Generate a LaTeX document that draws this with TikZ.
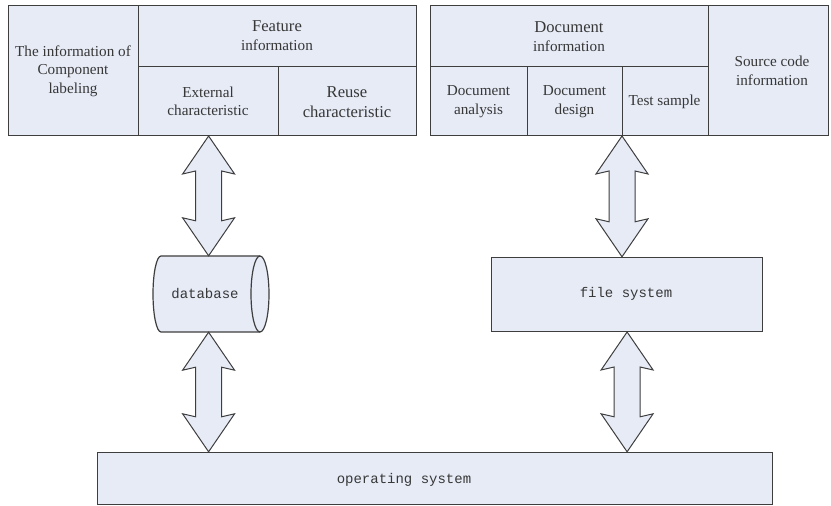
\documentclass[tikz,border=0pt]{standalone}
\usepackage{fontspec}
\setmainfont{Liberation Serif}
\newfontfamily\codefont{Liberation Mono}
\usetikzlibrary{calc}

\definecolor{boxfill}{RGB}{230,235,246}
\definecolor{boxline}{RGB}{62,62,62}
\definecolor{inktext}{RGB}{55,55,55}

\tikzset{
  cell/.style={draw=boxline, fill=boxfill, line width=1.2pt, inner sep=0pt,
    anchor=south west, align=center, text=inktext,
    font=\fontsize{15.2}{18.5}\selectfont},
  plainbox/.style={draw=boxline, fill=boxfill, line width=1.2pt, inner sep=0pt,
    anchor=south west},
  label/.style={inner sep=0pt, align=center, text=inktext,
    font=\fontsize{15.2}{18.5}\selectfont},
  codelabel/.style={inner sep=0pt, text=inktext,
    font=\codefont\fontsize{14}{16}\selectfont},
  blockarrow/.style={draw=boxline, fill=boxfill, line width=1pt, line join=miter},
}

% vertical double-headed block arrow between two points (top, bottom)
\newcommand\bidiarrow[2]{%
  \draw[blockarrow] let \p1=(#1), \p2=(#2) in
    (\x1,\y1) -- (\x1-26pt,\y1-38pt) -- (\x1-13pt,\y1-35pt)
    -- (\x1-13pt,\y2+35pt) -- (\x1-26pt,\y2+38pt) -- (\x1,\y2)
    -- (\x1+26pt,\y2+38pt) -- (\x1+13pt,\y2+35pt)
    -- (\x1+13pt,\y1-35pt) -- (\x1+26pt,\y1-38pt) -- cycle;}

\begin{document}
\begin{tikzpicture}[x=1pt,y=1pt]
\useasboundingbox (0,0) rectangle (831,506);

% component information block
\node[cell, minimum width=130pt, minimum height=130pt] (comp) at (8,370) {};
\node[label] (comptext) at (73,435) {The information of\\Component\\labeling};
\node[cell, minimum width=278pt, minimum height=61pt] (feat) at (138,439) {};
\node[label] (feattext) at (277,470.5) {{\fontsize{16.6}{18.5}\selectfont Feature}\\information};
\node[cell, minimum width=140pt, minimum height=69pt] (ext) at (138,370) {};
\node[label] (exttext) at (208,404.5) {External\\characteristic};
\node[cell, minimum width=138pt, minimum height=69pt] (reuse) at (278,370) {};
\node[label, font=\fontsize{16.6}{19.5}\selectfont] (reusetext) at (347,404) {Reuse\\characteristic};

% document / source code block
\node[cell, minimum width=278pt, minimum height=61pt] (docinfo) at (430,439) {};
\node[label] (docinfotext) at (569,469.5) {{\fontsize{16.6}{18.5}\selectfont Document}\\information};
\node[cell, minimum width=97pt, minimum height=69pt] (ana) at (430,370) {};
\node[label] (anatext) at (478.5,404.5) {Document\\analysis};
\node[cell, minimum width=95pt, minimum height=69pt] (des) at (527,370) {};
\node[label] (destext) at (574.5,404.5) {Document\\design};
\node[cell, minimum width=86pt, minimum height=69pt] (test) at (622,370) {};
\node[label] (testtext) at (664.5,404.5) {Test sample};
\node[cell, minimum width=120pt, minimum height=130pt] (src) at (708,370) {};
\node[label] (srctext) at (772,435) {Source code\\information};

% database cylinder
\node[inner sep=0pt, minimum width=116pt, minimum height=76pt] (db) at (211,212) {};
\filldraw[draw=boxline, fill=boxfill, line width=1.2pt]
  (161,250) -- (260,250) arc[start angle=90, end angle=-90, x radius=9pt, y radius=38pt]
  -- (161,174) arc[start angle=270, end angle=90, x radius=8pt, y radius=38pt] -- cycle;
\draw[draw=boxline, line width=1.2pt]
  (260,250) arc[start angle=90, end angle=270, x radius=9pt, y radius=38pt];
\node[codelabel] (dbtext) at (205,212) {database};

% file system and operating system
\node[plainbox, minimum width=271pt, minimum height=74pt] (fs) at (491,174) {};
\node[codelabel] (fstext) at (626,212) {file system};
\node[plainbox, minimum width=675pt, minimum height=52pt] (os) at (97,1) {};
\node[codelabel] (ostext) at (404,26) {operating system};

% connectors
\bidiarrow{ext.south}{ext.south |- db.north}
\bidiarrow{test.south west}{test.south west |- fs.north}
\bidiarrow{ext.south |- db.south}{ext.south |- os.north}
\bidiarrow{fs.south}{fs.south |- os.north}
\end{tikzpicture}
\end{document}
